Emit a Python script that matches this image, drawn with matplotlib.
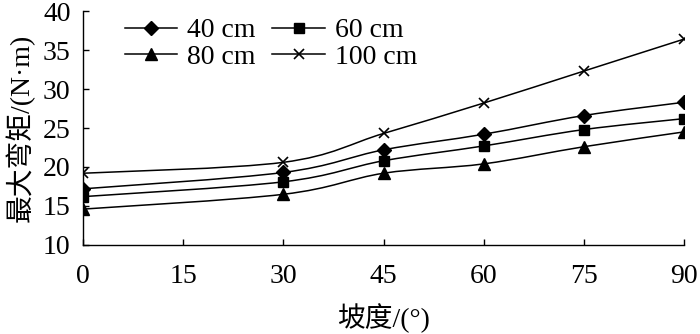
import matplotlib
matplotlib.use("Agg")
import matplotlib.pyplot as plt
import numpy as np
from matplotlib.path import Path
from matplotlib.patches import PathPatch
from matplotlib.lines import Line2D

slope = [0, 30, 45, 60, 75, 90]
s40 = [17.2, 19.3, 22.2, 24.2, 26.6, 28.3]
s60 = [16.2, 18.1, 20.8, 22.7, 24.8, 26.2]
s80 = [14.6, 16.5, 19.2, 20.4, 22.6, 24.5]
s100 = [19.2, 20.6, 24.3, 28.2, 32.3, 36.4]
labels = ["40 cm", "60 cm", "80 cm", "100 cm"]
xticks = [0, 15, 30, 45, 60, 75, 90]
yticks = [10, 15, 20, 25, 30, 35, 40]

plt.rcParams['font.family'] = ['Liberation Serif', 'Noto Sans CJK SC']

FS = 20

fig = plt.figure(figsize=(7.0, 3.34), dpi=100)
ax = fig.add_axes([0.1186, 0.2665, 0.8586, 0.7005])


def smooth_path(xs, ys):
    P = np.column_stack([xs, ys]).astype(float)
    n = len(P)
    verts = [P[0]]
    codes = [Path.MOVETO]
    for i in range(n - 1):
        p0 = P[i - 1] if i > 0 else P[i]
        p1 = P[i]
        p2 = P[i + 1]
        p3 = P[i + 2] if i + 2 < n else P[i + 1]
        c1 = p1 + (p2 - p0) / 6.0
        c2 = p2 - (p3 - p1) / 6.0
        verts += [c1, c2, p2]
        codes += [Path.CURVE4] * 3
    return Path(verts, codes)


styles = [
    dict(marker='D', ms=6.8),
    dict(marker='s', ms=7.5),
    dict(marker='^', ms=9),
    dict(marker='x', ms=7.5, mew=1.2),
]
handles = []
for ys, lab, st in zip([s40, s60, s80, s100], labels, styles):
    patch = PathPatch(smooth_path(slope, ys), facecolor='none', edgecolor='black',
                      lw=1.1, zorder=2)
    ax.add_patch(patch)
    ax.plot(slope, ys, linestyle='none', color='black', zorder=3, **st)
    handles.append(Line2D([], [], color='black', lw=1.1, **st))

ax.set_xlim(0, 90)
ax.set_ylim(10, 40)
ax.set_xticks(xticks)
ax.set_yticks(yticks)
ax.tick_params(direction='in', length=4, width=1.0, labelsize=FS, pad=9)
ax.tick_params(axis='x', pad=14)
for sp in ['top', 'right']:
    ax.spines[sp].set_visible(False)
for sp in ['left', 'bottom']:
    ax.spines[sp].set_linewidth(1.0)

ax.set_xlabel('坡度/(°)', fontsize=FS, labelpad=10)
ax.set_ylabel('最大弯矩/(N·m)', fontsize=FS, labelpad=6)

order = [0, 2, 1, 3]
ax.legend([handles[i] for i in order], [labels[i] for i in order], ncol=2,
          frameon=False, fontsize=FS,
          loc='upper left', bbox_to_anchor=(0.046, 1.03), borderpad=0,
          handlelength=1.9, handletextpad=0.35, columnspacing=0.6,
          labelspacing=0.05)

fig.savefig('out.png', dpi=100)
